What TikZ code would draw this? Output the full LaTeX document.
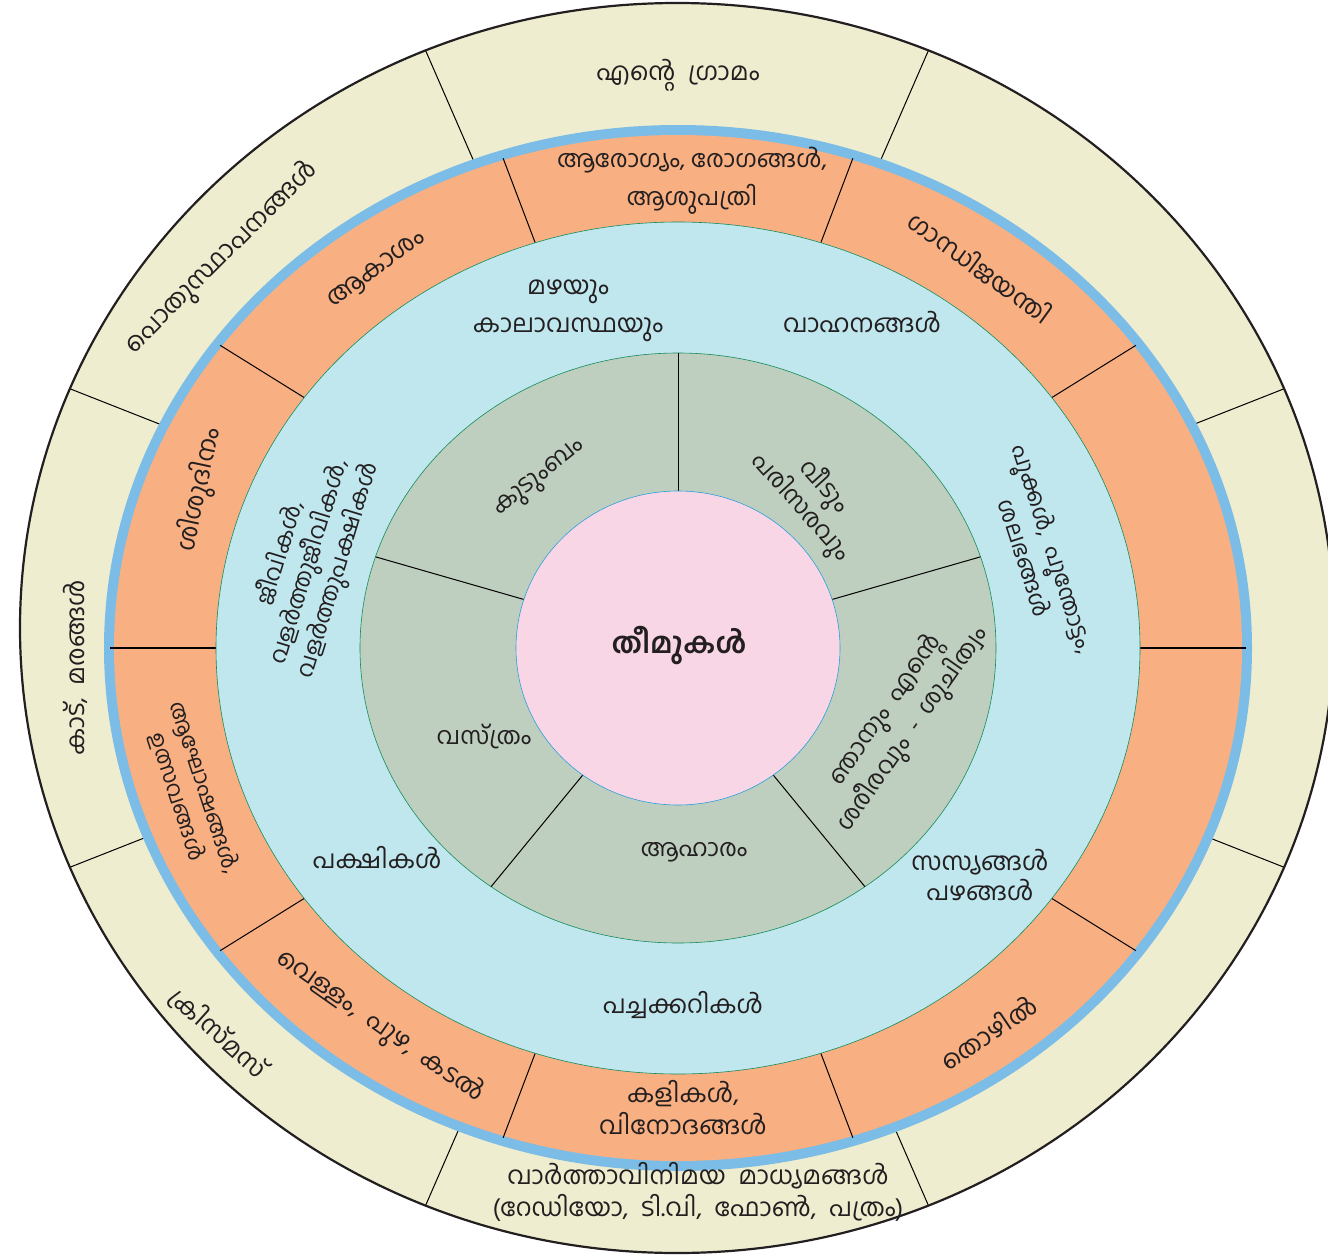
\documentclass[tikz,border=0pt]{standalone}
\usepackage{fontspec}
\newfontfamily\mlfont[Script=Malayalam]{Hind Kochi}
\definecolor{beige}{RGB}{238,237,208}
\definecolor{bandblue}{RGB}{123,189,230}
\definecolor{orng}{RGB}{248,175,130}
\definecolor{ltblue}{RGB}{192,230,238}
\definecolor{sage}{RGB}{190,207,191}
\definecolor{pinkc}{RGB}{249,214,229}
\definecolor{edgegreen}{RGB}{20,140,90}
\definecolor{edgeblue}{RGB}{40,160,220}
\definecolor{ink}{RGB}{35,31,32}
\begin{document}
\begin{tikzpicture}[x=1pt,y=-1pt,
  lbl/.style={text=ink,font=\mlfont\fontsize{25}{34}\selectfont,align=center,inner sep=0pt},
  sml/.style={font=\mlfont\fontsize{23}{30}\selectfont},
  grey/.style={font=\mlfont\fontsize{24}{31}\selectfont},
  divline/.style={draw=black,line width=1pt}]
\useasboundingbox (0,0) rectangle (1328,1255);
\fill[white] (0,0) rectangle (1328,1255);
\coordinate (C) at (678,648);
\coordinate (O) at (677,628);
% outer ring with its eight radial dividers
\fill[beige] (O) ellipse [x radius=657pt, y radius=625pt];
\begin{scope}
\clip (O) ellipse [x radius=657pt, y radius=625pt];
\foreach \a in {22.5,67.5,...,337.5}
  \draw[divline] (O) -- ({677+700*cos(\a)},{628-666*sin(\a)});
\end{scope}
\draw[line width=2.2pt, ink] (O) ellipse [x radius=657pt, y radius=625pt];
% blue band and orange ring
\fill[bandblue] (C) ellipse [x radius=574pt, y radius=523pt];
\fill[orng] (C) ellipse [x radius=564pt, y radius=513pt];
\foreach \a in {36,72,108,144,216,252,288,324}
  \draw[divline] ({678+566*cos(\a)},{648-515*sin(\a)}) -- ({678+462*cos(\a)},{648-426*sin(\a)});
\draw[divline,line width=1.8pt] (1246,648) -- (1140,648);
\draw[divline,line width=1.8pt] (110,648) -- (216,648);
% light blue ring
\filldraw[fill=ltblue, draw=edgegreen, line width=0.6pt] (C) ellipse [x radius=462pt, y radius=426pt];
% grey ring
\filldraw[fill=sage, draw=edgegreen, line width=0.6pt] (C) ellipse [x radius=318pt, y radius=295pt];
\foreach \a in {18,90,162,234,306}
  \draw[divline] ({678+318*cos(\a)},{648-295*sin(\a)}) -- ({678+162*cos(\a)},{648-157*sin(\a)});
% pink centre
\filldraw[fill=pinkc, draw=edgeblue, line width=0.6pt] (C) ellipse [x radius=162pt, y radius=157pt];

% outer ring labels
\node[lbl] (gramam) at (678,75) {എന്റെ\enspace ഗ്രാമം};
\node[lbl,rotate=45] (pothu) at (222,258) {പൊതുസ്ഥാപനങ്ങൾ};
\node[lbl,rotate=90] (kadu) at (75,668) {കാട്,\enspace മരങ്ങൾ};
\node[lbl,rotate=-42] (xmas) at (218,1033) {ക്രിസ്മസ്};
\node[lbl,font=\mlfont\fontsize{25}{32}\selectfont] (vartha) at (698,1192) {വാർത്താവിനിമയ\enspace മാധ്യമങ്ങൾ\\(റേഡിയോ,\enspace ടി.വി,\enspace ഫോൺ,\enspace പത്രം)};

% orange ring labels
\node[lbl,font=\mlfont\fontsize{24}{38}\selectfont] (arogyam) at (692,181) {ആരോഗ്യം, രോഗങ്ങൾ,\\ആശുപത്രി};
\node[lbl,rotate=-36] (gandhi) at (980,267) {ഗാന്ധിജയന്തി};
\node[lbl,rotate=34] (thozhil) at (988,1032) {തൊഴിൽ};
\node[lbl,font=\mlfont\fontsize{25}{32}\selectfont] (kali) at (683,1108) {കളികൾ,\\വിനോദങ്ങൾ};
\node[lbl,rotate=-35] (vellam) at (380,1027) {വെള്ളം,\enspace പുഴ,\enspace കടൽ};
\node[lbl,font=\mlfont\fontsize{22}{29}\selectfont,rotate=-72] (aghosham) at (191,792) {ആഘോഷങ്ങൾ,\\ഉത്സവങ്ങൾ};
\node[lbl,rotate=78] (shishu) at (200,490) {ശിശുദിനം};
\node[lbl,rotate=36] (akasham) at (377,270) {ആകാശം};

% light blue ring labels
\node[lbl,font=\mlfont\fontsize{25}{38}\selectfont] (mazha) at (568,311) {മഴയും\\കാലാവസ്ഥയും};
\node[lbl] (vahanam) at (862,322) {വാഹനങ്ങൾ};
\node[lbl,sml,rotate=-72] (pookkal) at (1040,553) {പൂക്കൾ,\enspace പൂന്തോട്ടം,\\ശലഭങ്ങൾ};
\node[lbl,sml,rotate=73] (jeevi) at (310,562) {ജീവികൾ,\\വളർത്തുജീവികൾ,\\വളർത്തുപക്ഷികൾ};
\node[lbl] (pakshi) at (377,858) {പക്ഷികൾ};
\node[lbl] (pacha) at (683,1005) {പച്ചക്കറികൾ};
\node[lbl,font=\mlfont\fontsize{25}{30}\selectfont] (sasyam) at (980,875) {സസ്യങ്ങൾ\\പഴങ്ങൾ};

% grey ring labels
\node[lbl,grey,rotate=39] (kudumbam) at (540,479) {കുടുംബം};
\node[lbl,grey,rotate=-48] (veedu) at (812,497) {വീടും\\പരിസരവും};
\node[lbl,grey,rotate=55] (njan) at (900,720) {ഞാനും\enspace എന്റെ\\ശരീരവും\enspace -\enspace ശുചിത്വം};
\node[lbl,grey] (aharam) at (694,852) {ആഹാരം};
\node[lbl,grey] (vasthram) at (484,737) {വസ്ത്രം};
\node[lbl,font=\mlfont\bfseries\fontsize{29}{34}\selectfont] (theem) at (679,646) {തീമുകൾ};
\end{tikzpicture}
\end{document}
